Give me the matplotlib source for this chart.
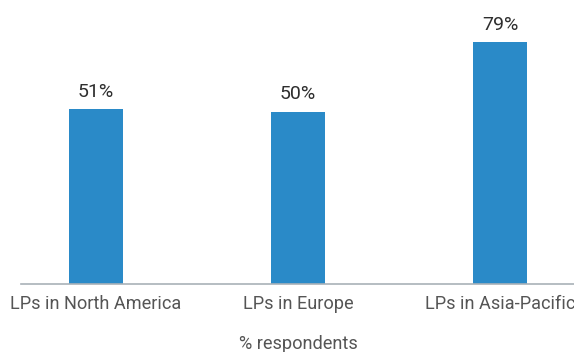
import numpy as np
import matplotlib
matplotlib.use('Agg')
import matplotlib.pyplot as plt

# données
categories = ['LPs in North America', 'LPs in Europe', 'LPs in Asia-Pacific']
valeurs = [51, 50, 79]
etiquettes = ['51%', '50%', '79%']

plt.rcParams['font.family'] = ['Roboto', 'DejaVu Sans']

ymin, ymax = -22.1, 96.7

fig = plt.figure(figsize=(5.74, 3.52), dpi=100)
ax = fig.add_axes([21/574, 68/352, 553/574, 284/352])

x = np.arange(len(categories))
# les barres partent de la ligne de base de l'axe
ax.bar(x, np.array(valeurs) - ymin, bottom=ymin, width=0.267,
       color='#2a8ac8', zorder=2)

for xi, v, txt in zip(x, valeurs, etiquettes):
    ax.annotate(txt, (xi, v), xytext=(0, 6), textcoords='offset points',
                ha='center', va='bottom', fontsize=14, color='#2e2e2e')

ax.set_xlim(-0.371, 2.366)
ax.set_ylim(ymin, ymax)
ax.set_xticks(x)
ax.set_xticklabels(categories, fontsize=13.1, color='#555555')
ax.tick_params(axis='x', length=0, pad=8)
ax.set_yticks([])
for s in ['top', 'right', 'left']:
    ax.spines[s].set_visible(False)
ax.spines['bottom'].set_color('#a9b1b8')
ax.spines['bottom'].set_linewidth(1.2)

fig.text(298/574, 8/352, '% respondents', ha='center', va='center',
         fontsize=13.1, color='#555555')

fig.savefig('out.png', dpi=100)
